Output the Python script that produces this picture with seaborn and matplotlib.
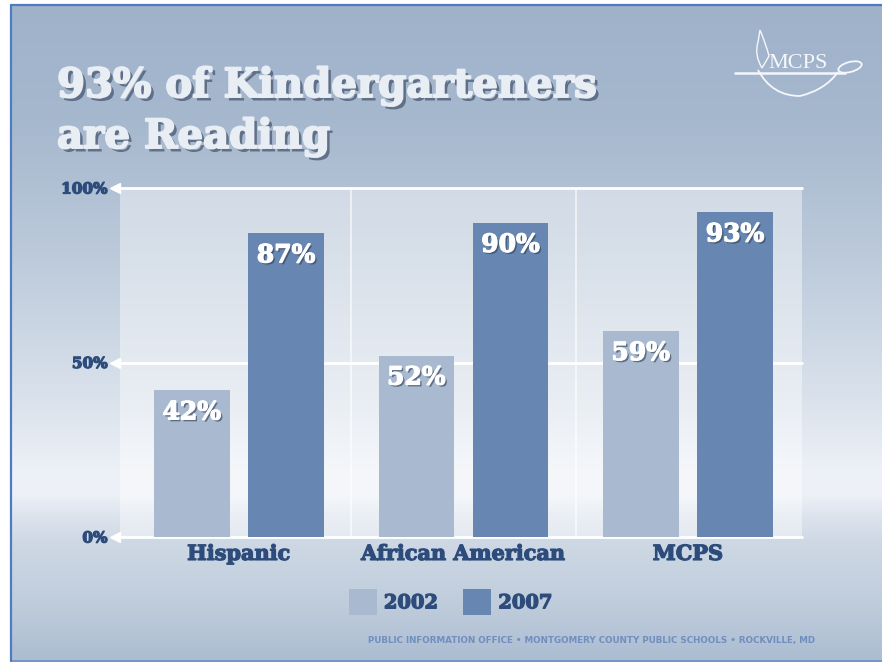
import numpy as np
import pandas as pd
import matplotlib
matplotlib.use("Agg")
import matplotlib.pyplot as plt
import seaborn as sns
from matplotlib import patheffects as pe
from matplotlib.path import Path
from matplotlib.patches import PathPatch, Ellipse

# ---- data ----
groups = ["Hispanic", "African American", "MCPS"]
years = ["2002", "2007"]
pct_2002 = [42, 52, 59]
pct_2007 = [87, 90, 93]
ytick_values = [0, 50, 100]
ytick_labels = ["0%", "50%", "100%"]

title_lines = ["93% of Kindergarteners", "are Reading"]
footer = "PUBLIC INFORMATION OFFICE \u2022 MONTGOMERY COUNTY PUBLIC SCHOOLS \u2022 ROCKVILLE, MD"

df = pd.DataFrame({
    "Group": groups * 2,
    "Year": [years[0]] * len(groups) + [years[1]] * len(groups),
    "Pct": pct_2002 + pct_2007,
})

# ---- style ----
sns.set_style("white")
plt.rcParams["font.family"] = ["DejaVu Serif", "DejaVu Sans"]

c2002 = "#A9BAD0"
c2007 = "#6786B2"
navy = "#2D4C7B"

W, H = 882, 662
fig = plt.figure(figsize=(W / 100, H / 100), dpi=100, facecolor="white")

# slide background: vertical gradient
bg = fig.add_axes([11 / W, 0, 1 - 11 / W, 1 - 5 / H], zorder=-5)
stops_y = [5, 120, 250, 400, 470, 492, 515, 540, 600, 662]
stops_c = ["#9FB2CA", "#A6B8CE", "#BBC9DA", "#DAE2EC", "#EDF1F7",
           "#EEF2F8", "#DDE4EE", "#CFD9E5", "#C0CDDC", "#ABBCD1"]
rgb = np.array([matplotlib.colors.to_rgb(c) for c in stops_c])
rows = np.arange(5, H)
grad = np.stack([np.interp(rows, stops_y, rgb[:, k]) for k in range(3)], axis=-1)
bg.imshow(grad[:, None, :], aspect="auto", extent=(0, 1, 0, 1), interpolation="bilinear")
bg.set_axis_off()

# chart panel
ax = fig.add_axes([120 / W, 1 - 537 / H, (802 - 120) / W, (537 - 188) / H])
ax.set_facecolor((1, 1, 1, 0.42))

sns.barplot(data=df, x="Group", y="Pct", hue="Year", palette=[c2002, c2007],
            width=0.84, gap=0.2, saturation=1, ax=ax, zorder=3,
            edgecolor="none", linewidth=0)

ax.set_ylim(0, 100)
ax.set_xlim(-0.53, 2.508)
for v in ytick_values:
    ax.axhline(v, color="white", lw=2, zorder=1, clip_on=False)
for xv in [0.5, 1.5]:
    ax.axvline(xv, color="white", lw=1.2, alpha=0.7, zorder=1)
ax.plot([-0.008] * len(ytick_values), ytick_values, ls="none", marker="<",
        ms=7, color="white", transform=ax.get_yaxis_transform(), clip_on=False, zorder=4)

heavy_navy = [pe.withStroke(linewidth=0.9, foreground=navy)]
ax.set_yticks(ytick_values, ytick_labels, fontsize=11, fontweight="bold", color=navy)
ax.set_xticks(range(len(groups)), groups, fontsize=15, fontweight="bold", color=navy)
for lab in ax.get_xticklabels() + ax.get_yticklabels():
    lab.set_path_effects(heavy_navy)
ax.tick_params(axis="y", length=0, pad=9)
ax.tick_params(axis="x", length=0, pad=5)
ax.set_xlabel("")
ax.set_ylabel("")
for s in ax.spines.values():
    s.set_visible(False)

# value labels inside the bars
shadow = [pe.withSimplePatchShadow(offset=(1.4, -1.4), shadow_rgbFace="#34445A", alpha=0.65),
          pe.withStroke(linewidth=0.9, foreground="white"), pe.Normal()]
for cont in ax.containers:
    for bar in cont:
        h = bar.get_height()
        ax.annotate(f"{h:.0f}%", xy=(bar.get_x() + bar.get_width() / 2, h),
                    xytext=(0, -15.8), textcoords="offset points",
                    ha="center", va="center", fontsize=18, fontweight="bold",
                    color="white", zorder=5, path_effects=shadow)

# legend
handles, labels = ax.get_legend_handles_labels()
if ax.get_legend() is not None:
    ax.get_legend().remove()
leg = ax.legend(handles, labels, ncol=2, loc="center",
                bbox_to_anchor=(450.5 / W, 1 - 602 / H), bbox_transform=fig.transFigure,
                frameon=False, handlelength=1.45, handleheight=1.65,
                handletextpad=0.36, columnspacing=1.3, borderpad=0,
                prop=dict(family="DejaVu Serif", weight="bold", size=14))
for t in leg.get_texts():
    t.set_color(navy)
    t.set_path_effects(heavy_navy)

# title
title_color = "#E9EEF5"
title_fx = [pe.withSimplePatchShadow(offset=(2.5, -2.5), shadow_rgbFace="#485870", alpha=0.75),
            pe.withStroke(linewidth=1.4, foreground=title_color), pe.Normal()]
fig.text(57 / W, 1 - 97 / H, title_lines[0], fontsize=29, fontweight="bold",
         color=title_color, va="baseline", ha="left", path_effects=title_fx)
fig.text(57 / W, 1 - 148 / H, title_lines[1], fontsize=29, fontweight="bold",
         color=title_color, va="baseline", ha="left", path_effects=title_fx)

# footer
fig.text(592 / W, 1 - 640 / H, footer, ha="center", va="center", fontsize=6.3,
         color="#6F8FC0", family="DejaVu Sans", fontweight="bold")

# overlay in pixel coordinates: slide border and logo
ov = fig.add_axes([0, 0, 1, 1], zorder=10)
ov.set_xlim(0, W)
ov.set_ylim(H, 0)
ov.set_axis_off()
ov.patch.set_visible(False)
border = "#4E7CC2"
ov.plot([11, 11], [5, 661], color=border, lw=1.6)
ov.plot([11, W], [5, 5], color=border, lw=1.6)
ov.plot([11, W], [660.5, 660.5], color=border, lw=1.2, alpha=0.7)

logo_c = "#F4F7FB"
ov.text(768, 68, "MCPS", fontsize=16, color=logo_c, family="Liberation Serif",
        ha="left", va="baseline")
flame = Path([(762, 68), (754, 55), (758, 42), (760, 30), (766, 44), (769, 56), (762, 68)],
             [Path.MOVETO, Path.CURVE3, Path.CURVE3, Path.LINETO, Path.CURVE3, Path.CURVE3, Path.CLOSEPOLY])
ov.add_patch(PathPatch(flame, fill=False, ec=logo_c, lw=1.0))
ov.plot([735, 845], [73, 73], color=logo_c, lw=1.8, solid_capstyle="round")
ov.add_patch(Ellipse((850, 67), 24, 10, angle=-15, fill=False, ec=logo_c, lw=1.3))
swoosh = Path([(758, 70), (772, 96), (800, 96), (825, 90), (838, 72)],
              [Path.MOVETO, Path.CURVE3, Path.CURVE3, Path.CURVE3, Path.CURVE3])
ov.add_patch(PathPatch(swoosh, fill=False, ec=logo_c, lw=1.3))

fig.savefig("out.png", dpi=100, facecolor=fig.get_facecolor())
